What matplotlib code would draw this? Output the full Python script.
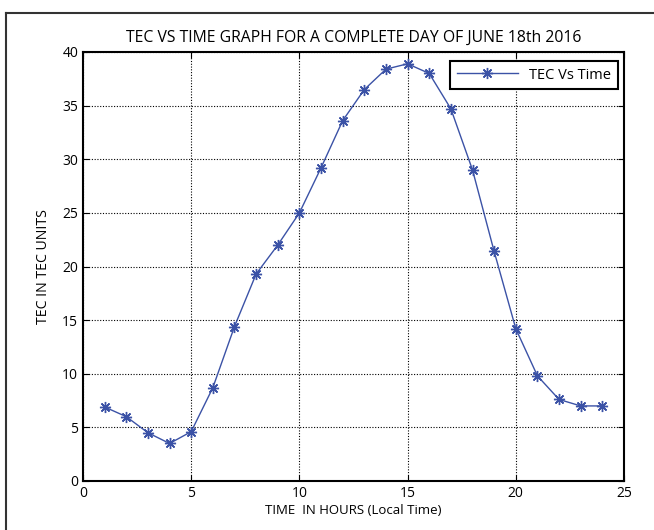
import matplotlib
matplotlib.use("Agg")
import matplotlib.pyplot as plt
from matplotlib.lines import Line2D

hours = [1, 2, 3, 4, 5, 6, 7, 8, 9, 10, 11, 12,
         13, 14, 15, 16, 17, 18, 19, 20, 21, 22, 23, 24]
tec = [6.9, 6.0, 4.5, 3.5, 4.6, 8.7, 14.4, 19.3, 22.0, 25.0, 29.2, 33.6,
       36.5, 38.4, 38.9, 38.0, 34.7, 29.0, 21.4, 14.2, 9.8, 7.6, 7.0, 7.0]

plt.rcParams["font.family"] = ["Open Sans", "DejaVu Sans"]

W, H = 654, 530
L, R, T, B = 83, 624, 52, 481
fig = plt.figure(figsize=(W / 100, H / 100), dpi=100)
ax = fig.add_axes([L / W, 1 - B / H, (R - L) / W, (B - T) / H])

ax.plot(hours, tec, "-", marker=(8, 2, 0), color="#3b52a6", lw=1.0, ms=8,
        mew=1.0, label="TEC Vs Time")
ax.set_xlim(0, 25)
ax.set_ylim(0, 40)
ax.set_xticks(range(0, 26, 5))
ax.set_yticks(range(0, 41, 5))
ax.grid(True, color="black", linestyle=(0, (1, 1.5)), lw=0.8)
ax.tick_params(direction="in", labelsize=10, length=4, top=True, right=True)
for s in ax.spines.values():
    s.set_linewidth(1.5)

ax.set_title("TEC VS TIME GRAPH FOR A COMPLETE DAY OF JUNE 18th 2016",
             fontsize=11.3, pad=7)
ax.set_xlabel("TIME  IN HOURS (Local Time)", fontsize=9.5, labelpad=2)
ax.set_ylabel("TEC IN TEC UNITS", fontsize=10.2, labelpad=8)

leg = ax.legend(loc="upper right", fontsize=10.5, fancybox=False,
                framealpha=1, edgecolor="black", borderaxespad=0,
                bbox_to_anchor=((618 - L) / (R - L), 1 - (61 - T) / (B - T)),
                handlelength=4.2, borderpad=0.45)
leg.get_frame().set_linewidth(1.5)

# outer figure border
fig.add_artist(Line2D([6 / W, 6 / W], [0, 1 - 13 / H], color="#333333",
                      lw=1.5, transform=fig.transFigure))
fig.add_artist(Line2D([6 / W, 1], [1 - 13 / H, 1 - 13 / H], color="#333333",
                      lw=1.5, transform=fig.transFigure))

fig.savefig("out.png", dpi=100)
